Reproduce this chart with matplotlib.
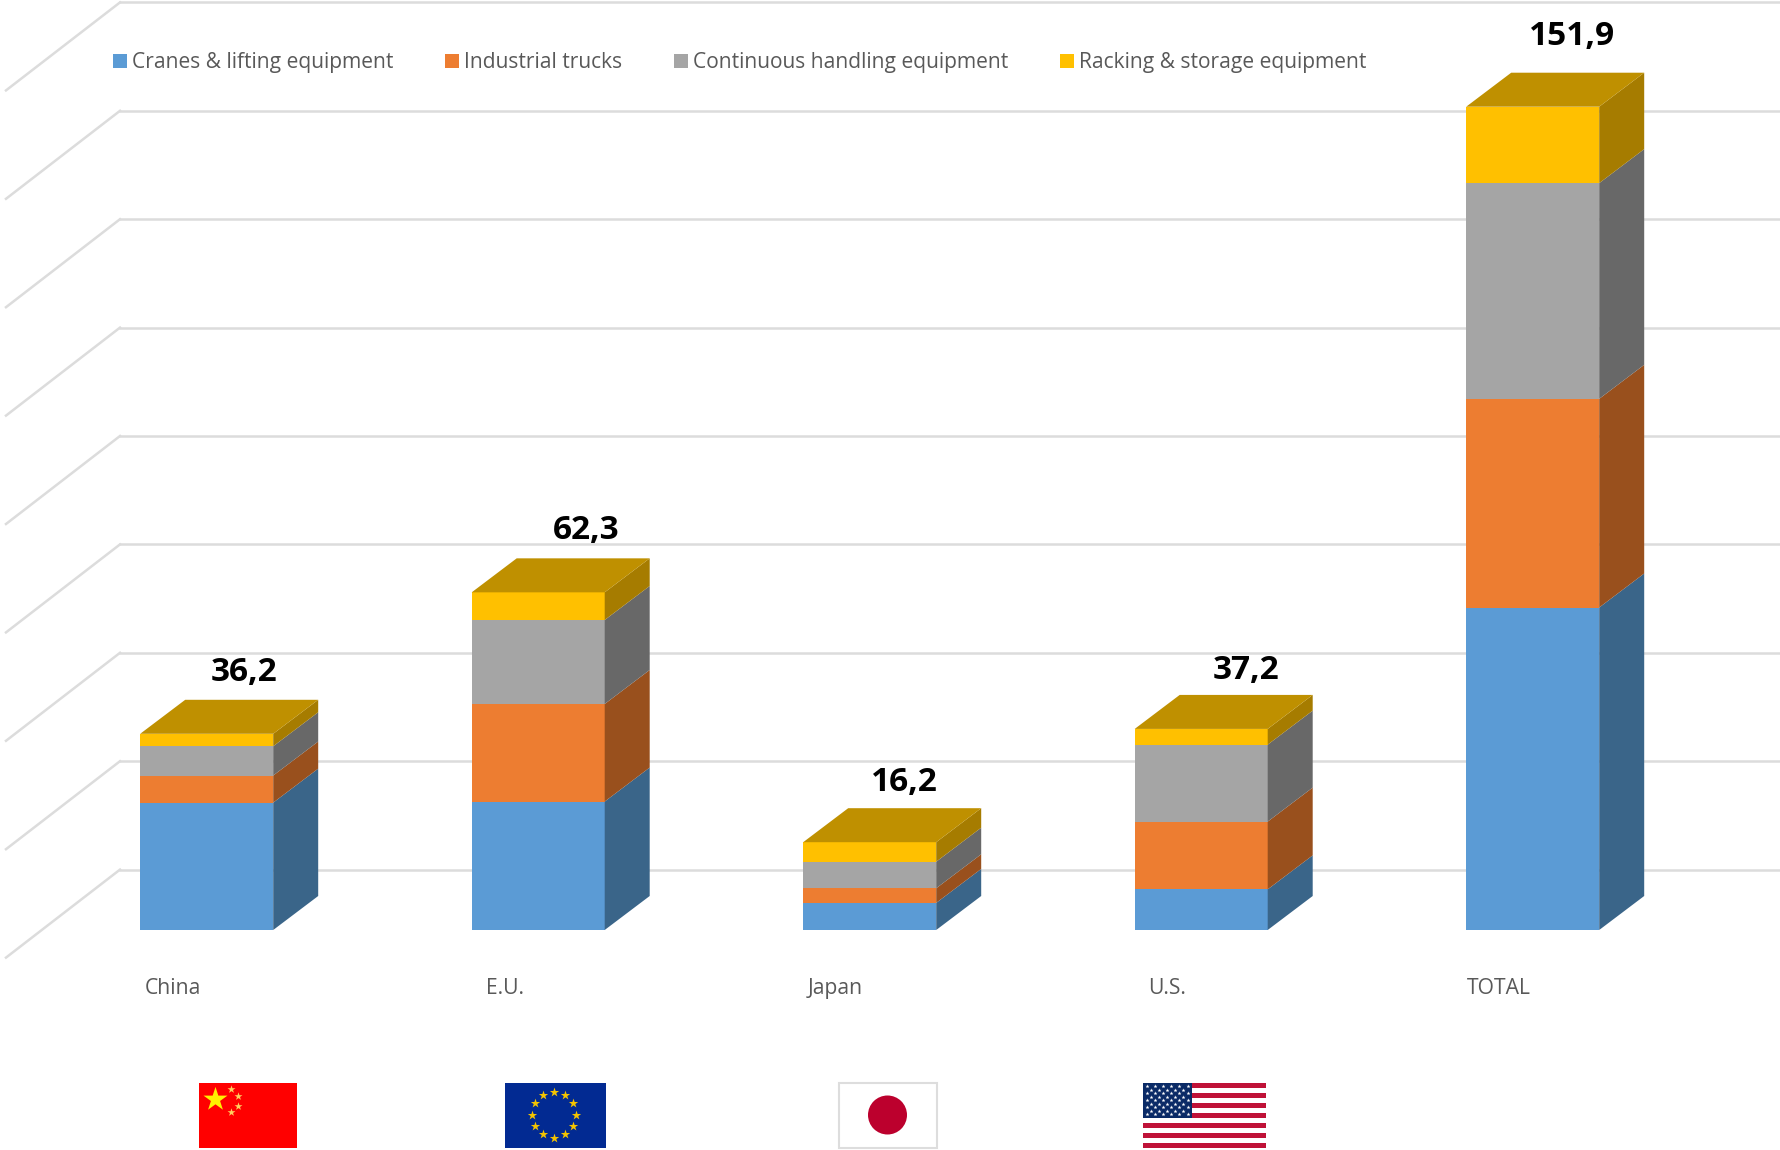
import numpy as np
import matplotlib
matplotlib.use('Agg')
import matplotlib.pyplot as plt
from matplotlib.patches import Patch, Polygon, Rectangle, Circle

plt.rcParams['font.family'] = ['Open Sans', 'DejaVu Sans']

# data
categories = ['China', 'E.U.', 'Japan', 'U.S.', 'TOTAL']
cranes = [23.5, 23.7, 5.0, 7.5, 59.5]
trucks = [5.0, 18.0, 2.7, 12.5, 38.5]
handling = [5.4, 15.5, 4.9, 14.2, 39.8]
racking = [2.3, 5.1, 3.6, 2.9, 14.1]
totals = ['36,2', '62,3', '16,2', '37,2', '151,9']
series_names = ['Cranes & lifting equipment', 'Industrial trucks',
                'Continuous handling equipment', 'Racking & storage equipment']
grid_values = [0, 20, 40, 60, 80, 100, 120, 140, 160]

front_colors = ['#5B9BD5', '#ED7D31', '#A5A5A5', '#FFC000']
side_colors = ['#3A6589', '#99501D', '#686868', '#A67C00']
top_color = '#BF9000'

W, H = 1780, 1150
px_cat = 331.5     # pixels per category
px_val = 5.42      # pixels per unit
x0_px = 206.7      # centre of first bar
y0_px = 930.0      # value 0 at the bar front

fig = plt.figure(figsize=(W / 100, H / 100), dpi=100)
ax = fig.add_axes([0, 0, 1, 1])
ax.set_xlim(-x0_px / px_cat, (W - x0_px) / px_cat)
ax.set_ylim(-(H - y0_px) / px_val, y0_px / px_val)
ax.axis('off')

bar_w = 133 / px_cat
depth_x = 45 / px_cat
depth_y = 34 / px_val
wall_up = 60.4 / px_val        # back wall sits above the bar front
wall_x = (120 - x0_px) / px_cat
left_x = (6 - x0_px) / px_cat
left_dy = 88 / px_val

# back wall gridlines and the slanted floor/side lines
for g in grid_values:
    yy = g + wall_up
    ax.plot([wall_x, ax.get_xlim()[1]], [yy, yy], color='#DCDCDC', lw=1.8, zorder=1)
    ax.plot([left_x, wall_x], [yy - left_dy, yy], color='#DCDCDC', lw=1.8, zorder=1)

# stacked bars with fake 3d sides
x = np.arange(len(categories))
layers = [cranes, trucks, handling, racking]
bottom = np.zeros(len(categories))
for vals, fc, sc in zip(layers, front_colors, side_colors):
    vals = np.array(vals)
    ax.bar(x, vals, bar_w, bottom=bottom, color=fc, zorder=3)
    for xi, b, v in zip(x, bottom, vals):
        r = xi + bar_w / 2
        ax.add_patch(Polygon([(r, b), (r + depth_x, b + depth_y),
                              (r + depth_x, b + v + depth_y), (r, b + v)],
                             closed=True, facecolor=sc, edgecolor='none', zorder=3))
    bottom = bottom + vals

for xi, top in zip(x, bottom):
    l = xi - bar_w / 2
    r = xi + bar_w / 2
    ax.add_patch(Polygon([(l, top), (r, top), (r + depth_x, top + depth_y),
                          (l + depth_x, top + depth_y)],
                         closed=True, facecolor=top_color, edgecolor='none', zorder=3))

# total labels sit above the bar, not quite centred in the original
label_dx = [37, 48, 35, 45, 39]
label_dy = [10.5, 11.7, 9.4, 8.3, 19.6]
for xi, top, txt, dx, dy in zip(x, bottom, totals, label_dx, label_dy):
    ax.text(xi + dx / px_cat, top + depth_y + dy / px_val, txt, ha='center', va='bottom',
            fontsize=24, fontweight='bold', color='black', zorder=5)

# category names under the bars
name_dx = [-62, -52.5, -62, -53.5, -65.5]
for xi, name, dx in zip(x, categories, name_dx):
    ax.text(xi + dx / px_cat, -58.5 / px_val, name, ha='left', va='center',
            fontsize=15.2, color='#595959')

handles = [Patch(facecolor=c, edgecolor='none') for c in front_colors]
ax.legend(handles, series_names, ncols=4, frameon=False, loc='upper left',
          bbox_to_anchor=(113 / W, 1 - 52 / H), bbox_transform=fig.transFigure,
          fontsize=15.1, labelcolor='#595959', handlelength=0.67, handleheight=0.67,
          handletextpad=0.25, columnspacing=2.45, borderpad=0, borderaxespad=0)

# flags, in pixel coordinates
fx = fig.add_axes([0, 0, 1, 1])
fx.set_xlim(0, W)
fx.set_ylim(H, 0)
fx.axis('off')
fx.patch.set_alpha(0)

# China
fx.add_patch(Rectangle((199, 1083), 98, 65, facecolor='#FF0000', edgecolor='none'))
fx.scatter([215], [1099], marker='*', s=330, color='#FFF000', linewidths=0)
fx.scatter([231, 238, 238, 231], [1089, 1096, 1106, 1112], marker='*', s=36,
           color='#FFD060', linewidths=0)

# EU
fx.add_patch(Rectangle((505, 1083), 101, 65, facecolor='#022A92', edgecolor='none'))
ang = np.deg2rad(np.arange(0, 360, 30))
fx.scatter(554 + 22 * np.cos(ang), 1114.5 + 23 * np.sin(ang), marker='*', s=50,
           color='#F5C400', linewidths=0)

# Japan
fx.add_patch(Rectangle((839, 1083), 98, 65, facecolor='white', edgecolor='#DDDDDD', lw=1.5))
fx.add_patch(Circle((887.5, 1115), 19.5, facecolor='#BC002D', edgecolor='none'))

# USA
fx.add_patch(Rectangle((1143, 1083), 123, 65, facecolor='white', edgecolor='none'))
stripe = 65 / 13
for i in range(0, 13, 2):
    fx.add_patch(Rectangle((1143, 1083 + i * stripe), 123, stripe,
                           facecolor='#BF1238', edgecolor='none'))
fx.add_patch(Rectangle((1143, 1083), 49, 35, facecolor='#0A2A66', edgecolor='none', zorder=3))
sx, sy = [], []
for row in range(9):
    cols = 6 if row % 2 == 0 else 5
    off = 4 if row % 2 == 0 else 8
    for c in range(cols):
        sx.append(1143 + off + c * 8.1)
        sy.append(1086 + row * 3.55)
fx.scatter(sx, sy, marker='*', s=9, color='white', linewidths=0, zorder=4)

fig.savefig('out.png', dpi=100)
